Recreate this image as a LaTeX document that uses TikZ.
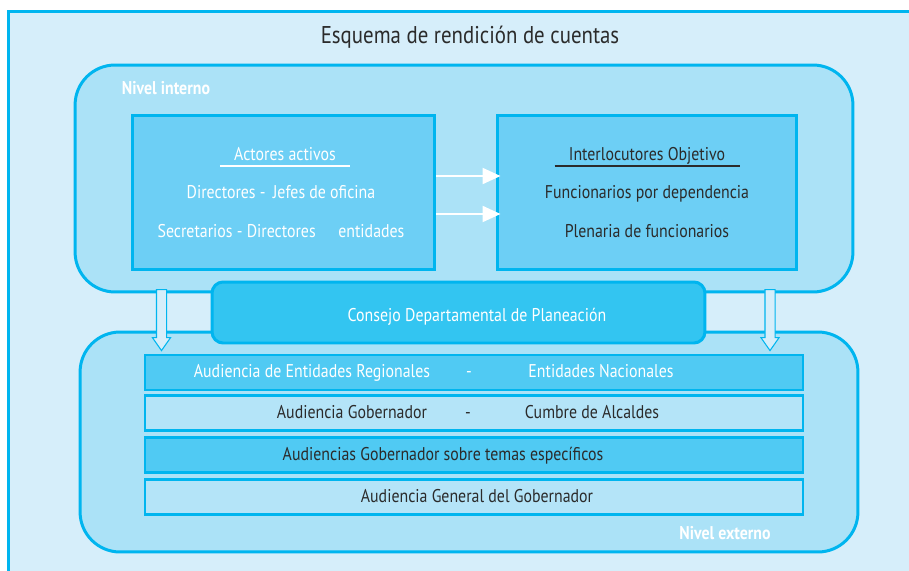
\documentclass[tikz,border=0pt]{standalone}
\usepackage{fontspec}
\setmainfont{PT Sans}[FakeStretch=0.86]
\usetikzlibrary{arrows.meta,shapes.arrows}

\definecolor{cian}{HTML}{00B5EF}
\definecolor{fondo}{HTML}{D6EEFA}
\definecolor{panelazul}{HTML}{ABE2F7}
\definecolor{cajaazul}{HTML}{6DCFF5}
\definecolor{consejoazul}{HTML}{33C5F1}
\definecolor{filaoscura}{HTML}{50CAF3}
\definecolor{filaclara}{HTML}{B4E4F8}
\definecolor{texto}{HTML}{2B2B2B}

\begin{document}
\begin{tikzpicture}[x=0.02cm,y=-0.02cm]

    \tikzset{panel/.style={draw=cian,line width=1.7pt,fill=panelazul,rounded corners=0.8cm,inner sep=0pt,minimum width=15.56cm}}
    \tikzset{caja/.style={draw=cian,line width=1.7pt,fill=cajaazul,inner sep=0pt,minimum height=3.1cm}}
    \tikzset{fila/.style={draw=cian,line width=1.2pt,inner sep=0pt,minimum width=13.16cm,minimum height=0.7cm}}
    \tikzset{txt/.style={text=texto,font=\fontsize{10.5}{12}\selectfont,inner sep=1pt,text height=1.6ex,text depth=0.4ex}}
    \tikzset{bajada/.style={single arrow,draw=cian,line width=0.6pt,fill=fondo,shape border rotate=270,minimum height=1.22cm,minimum width=0.34cm,single arrow head extend=0.08cm,single arrow tip angle=70,inner sep=0.09cm}}

    \useasboundingbox (0,0) rectangle (909,571);
    \fill[white] (0,0) rectangle (909,571);
    \node[draw=cian,line width=1.7pt,fill=fondo,inner sep=0pt,minimum width=18.64cm,minimum height=11.8cm] (marco) at (474,306) {};
    \node[text=texto,font=\fontsize{13.8}{15}\selectfont] (titulo) at (470,37) {Esquema de rendición de cuentas};

    \node[panel,minimum height=4.54cm] (interno) at (464,178.5) {};
    \node[panel,minimum height=4.4cm] (externo) at (469,442) {};
    \node[text=white,font=\fontsize{10.5}{12}\selectfont\bfseries] (nint) at (166,88) {Nivel interno};
    \node[text=white,font=\fontsize{10.5}{12}\selectfont\bfseries] (next) at (725,533) {Nivel externo};

    \node[caja,minimum width=6.06cm] (actores) at (283.5,192.5) {};
    \node[caja,minimum width=6.0cm] (interloc) at (647,192.5) {};

    \node[txt,text=white,inner xsep=8pt] (a0) at (285,155) {Actores activos};
    \draw[white,line width=1pt] (a0.south west) -- (a0.south east);
    \node[txt,text=white] (a1) at (281,193) {Directores - \,Jefes de oficina};
    \node[txt,text=white] (a2) at (281,232) {Secretarios - Directores \quad entidades};

    \node[txt,inner xsep=8pt] (i0) at (647,155) {Interlocutores Objetivo\hspace{1.2em}};
    \draw[texto,line width=1pt] (i0.south west) -- (i0.south east);
    \node[txt] (i1) at (647,193) {Funcionarios por dependencia};
    \node[txt] (i2) at (647,232) {Plenaria de funcionarios};

    \draw[white,line width=1.2pt,-{Triangle[length=0.36cm,width=0.32cm]}] ([yshift=0.33cm]actores.east) -- ([yshift=0.33cm,xshift=0.1cm]interloc.west);
    \draw[white,line width=1.2pt,-{Triangle[length=0.36cm,width=0.32cm]}] ([yshift=-0.43cm]actores.east) -- ([yshift=-0.43cm,xshift=0.1cm]interloc.west);

    \node[draw=cian,line width=1.7pt,fill=consejoazul,rounded corners=0.22cm,inner sep=0pt,minimum width=9.86cm,minimum height=1.22cm] (consejo) at (458.5,312.5) {};
    \node[txt,text=white] (c1) at (477,316) {Consejo Departamental de Planeación};

    \node[bajada] (flecha1) at (161.5,316.5) {};
    \node[bajada] (flecha2) at (770,316.5) {};

    \node[fila,fill=filaoscura] (fila1) at (474,372.5) {};
    \node[fila,fill=filaclara] (fila2) at (474,413) {};
    \node[fila,fill=filaoscura] (fila3) at (474,455) {};
    \node[fila,fill=filaclara] (fila4) at (474,497) {};

    \node[txt,text=white] (r1a) at (312,372) {Audiencia de Entidades Regionales};
    \node[txt,text=white] (r1b) at (469,372) {-};
    \node[txt,text=white] (r1c) at (601,372) {Entidades Nacionales};
    \node[txt] (r2a) at (352,413) {Audiencia Gobernador};
    \node[txt] (r2b) at (468,413) {-};
    \node[txt] (r2c) at (592,413) {Cumbre de Alcaldes};
    \node[txt] (r3) at (443,455) {Audiencias Gobernador sobre temas específicos};
    \node[txt] (r4) at (477,497) {Audiencia General del Gobernador};

\end{tikzpicture}
\end{document}
